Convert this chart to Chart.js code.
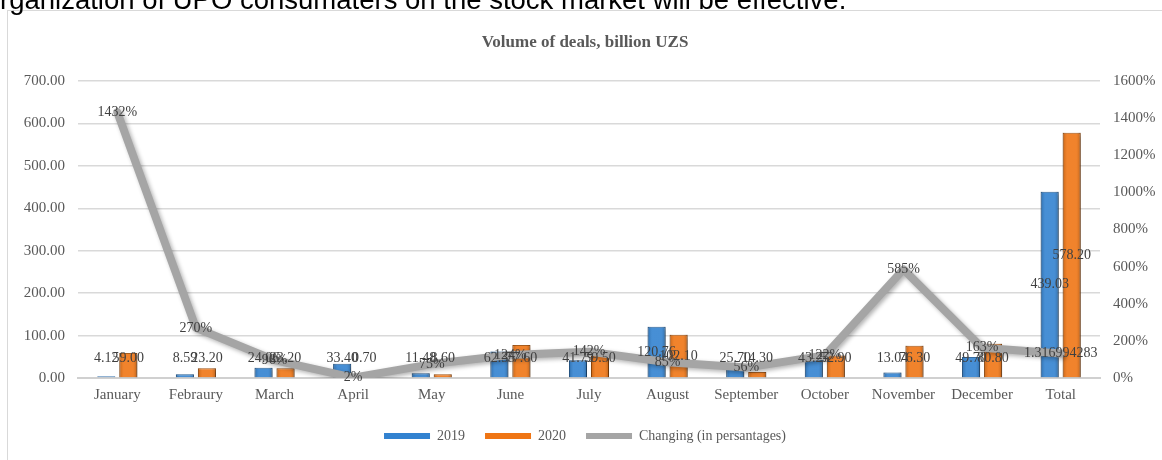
<!DOCTYPE html>
<html>
<head>
<meta charset="utf-8">
<script src="https://cdn.jsdelivr.net/npm/chart.js@4"></script>
<style>
  html, body { margin: 0; padding: 0; background: #fff; width: 1162px; height: 460px; overflow: hidden; }
  #doc { position: absolute; left: 0; top: -14px; z-index: 2; font-family: "Liberation Sans", Arial, sans-serif; font-size: 27.5px; line-height: 27.5px; color: #000; white-space: nowrap; }
  #frame { position: absolute; left: 7px; top: 10px; width: 1154px; height: 449px; border-left: 1px solid #d9d9d9; border-top: 1px solid #d9d9d9; background: #fff; }
  #wrap { position: absolute; left: 0; top: 0; width: 1154px; height: 449px; }
</style>
</head>
<body>
<div id="doc">rganization of UPO consumaters on the stock market will be effective.</div>
<div id="frame"><div id="wrap"><canvas id="dealsChart"></canvas></div></div>
<script>
        // Chart data (billion UZS)
        const months = ['January', 'Febraury', 'March', 'April', 'May', 'June', 'July', 'August', 'September', 'October', 'November', 'December', 'Total'];
        const deals2019 = [4.12, 8.59, 24.06, 33.40, 11.48, 62.35, 41.79, 120.76, 25.70, 43.25, 13.04, 49.70, 439.03];
        const deals2020 = [59.00, 23.20, 23.20, 0.70, 8.60, 77.60, 59.50, 102.10, 14.30, 52.90, 76.30, 80.80, 578.20];
        // 2020 / 2019 ratio
        const changing = [14.32, 2.70, 0.96, 0.02, 0.75, 1.24, 1.42, 0.85, 0.56, 1.22, 5.85, 1.63, 1.316994283];

        const serif = '"Liberation Serif", "Times New Roman", serif';
        const textGray = '#595959';

        // soft drop shadow like the office chart
        const shadows = {
            id: 'shadows',
            beforeDatasetDraw(chart) {
                const ctx = chart.ctx;
                ctx.save();
                ctx.shadowColor = 'rgba(0, 0, 0, 0.3)';
                ctx.shadowBlur = 4;
                ctx.shadowOffsetX = 2;
                ctx.shadowOffsetY = 2;
            },
            afterDatasetDraw(chart, args) {
                const ctx = chart.ctx;
                ctx.restore();
                // bevel-ish shading on the bars
                if (args.meta.type !== 'bar') return;
                args.meta.data.forEach(el => {
                    const w = el.width;
                    const left = el.x - w / 2;
                    const top = Math.min(el.y, el.base);
                    const h = Math.abs(el.base - el.y);
                    if (h < 1) return;
                    const g = ctx.createLinearGradient(left, 0, left + w, 0);
                    g.addColorStop(0, 'rgba(0,0,0,0.18)');
                    g.addColorStop(0.25, 'rgba(255,255,255,0.10)');
                    g.addColorStop(0.75, 'rgba(255,255,255,0.10)');
                    g.addColorStop(1, 'rgba(0,0,0,0.22)');
                    ctx.save();
                    ctx.fillStyle = g;
                    ctx.fillRect(left, top, w, h);
                    ctx.restore();
                });
            }
        };

        // value labels on bars and on the line
        const valueLabels = {
            id: 'valueLabels',
            afterDatasetsDraw(chart) {
                const ctx = chart.ctx;
                ctx.save();
                ctx.font = '14px ' + serif;
                ctx.fillStyle = '#404040';
                ctx.textAlign = 'center';
                ctx.textBaseline = 'middle';
                chart.data.datasets.forEach((ds, i) => {
                    const meta = chart.getDatasetMeta(i);
                    meta.data.forEach((el, j) => {
                        const v = ds.data[j];
                        if (ds.type === 'line') {
                            const txt = j === ds.data.length - 1 ? String(v) : Math.round(v * 100) + '%';
                            ctx.fillText(txt, el.x, el.y);
                        } else {
                            const y = Math.min((el.y + el.base) / 2, el.base - 19);
                            ctx.fillText(v.toFixed(2), el.x, y);
                        }
                    });
                });
                ctx.restore();
            }
        };

        const ctx = document.getElementById('dealsChart').getContext('2d');
        const dealsChart = new Chart(ctx, {
            type: 'bar',
            data: {
                labels: months,
                datasets: [{
                    label: '2019',
                    data: deals2019,
                    backgroundColor: '#3282d0',
                    borderColor: '#1f5a94',
                    borderWidth: 1,
                    categoryPercentage: 0.56,
                    barPercentage: 0.82,
                    yAxisID: 'y',
                    order: 1
                }, {
                    label: '2020',
                    data: deals2020,
                    backgroundColor: '#ef7514',
                    borderColor: '#a44f09',
                    borderWidth: 1,
                    categoryPercentage: 0.56,
                    barPercentage: 0.82,
                    yAxisID: 'y',
                    order: 1
                }, {
                    type: 'line',
                    label: 'Changing (in persantages)',
                    data: changing,
                    borderColor: '#a5a5a5',
                    backgroundColor: '#a5a5a5',
                    borderWidth: 8,
                    pointRadius: 0,
                    tension: 0,
                    borderJoinStyle: 'round',
                    borderCapStyle: 'round',
                    yAxisID: 'y1',
                    order: 0
                }]
            },
            options: {
                responsive: true,
                maintainAspectRatio: false,
                animation: false,
                layout: {
                    padding: { left: 0, right: 0, top: 0, bottom: 7 }
                },
                plugins: {
                    title: {
                        display: true,
                        text: 'Volume of deals, billion UZS',
                        color: textGray,
                        font: { family: serif, size: 17, weight: 'bold' },
                        padding: { top: 21, bottom: 28.6 }
                    },
                    legend: {
                        position: 'bottom',
                        labels: {
                            boxWidth: 46,
                            boxHeight: 6,
                            padding: 20,
                            color: textGray,
                            font: { family: serif, size: 14 },
                            sort: (a, b) => a.datasetIndex - b.datasetIndex,
                            generateLabels: function(chart) {
                                const items = Chart.defaults.plugins.legend.labels.generateLabels(chart);
                                items.forEach(it => { it.lineWidth = 0; });
                                return items;
                            }
                        }
                    },
                    tooltip: { enabled: false }
                },
                scales: {
                    x: {
                        grid: { display: false, drawTicks: false },
                        border: { color: '#d0d0d0', width: 2 },
                        ticks: { color: textGray, font: { family: serif, size: 15 }, padding: 8 },
                        afterFit: function(scale) { scale.height = 31; }
                    },
                    y: {
                        position: 'left',
                        min: 0,
                        max: 700,
                        ticks: {
                            stepSize: 100,
                            color: textGray,
                            font: { family: serif, size: 15 },
                            padding: 13,
                            callback: function(value) { return value.toFixed(2); }
                        },
                        grid: { color: '#d9d9d9', lineWidth: 1.5, drawTicks: false },
                        border: { display: false },
                        afterFit: function(scale) { scale.width = 70; }
                    },
                    y1: {
                        position: 'right',
                        min: 0,
                        max: 16,
                        ticks: {
                            stepSize: 2,
                            color: textGray,
                            font: { family: serif, size: 15 },
                            padding: 13,
                            callback: function(value) { return Math.round(value * 100) + '%'; }
                        },
                        grid: { drawOnChartArea: false, drawTicks: false },
                        border: { display: false },
                        afterFit: function(scale) { scale.width = 62; }
                    }
                }
            },
            plugins: [shadows, valueLabels]
        });
</script>
</body>
</html>
